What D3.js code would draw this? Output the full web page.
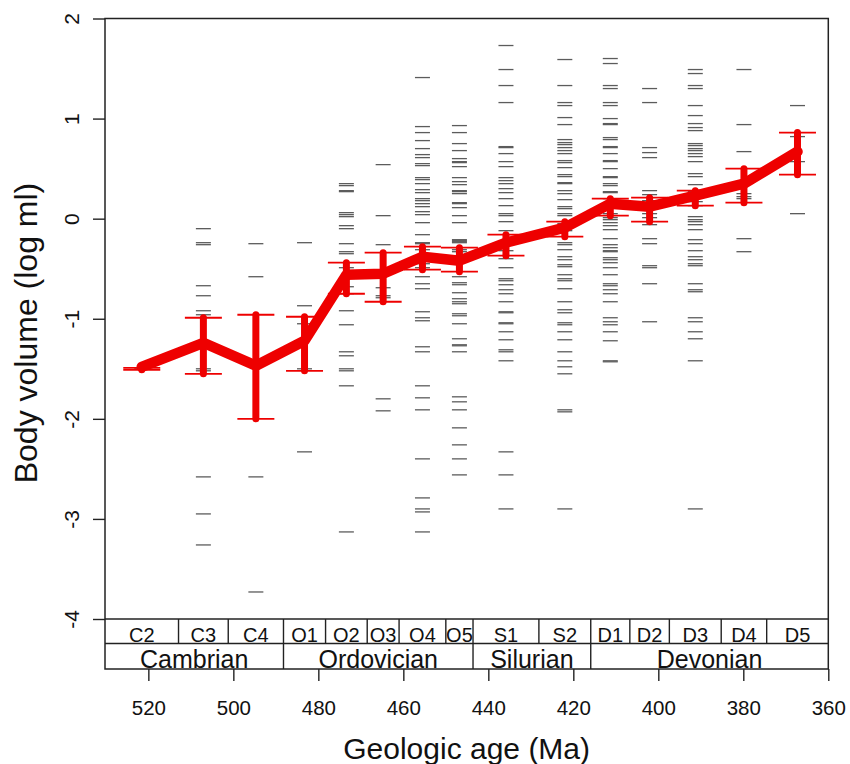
<!DOCTYPE html>
<html>
<head>
<meta charset="utf-8">
<script src="https://cdn.jsdelivr.net/npm/d3@7"></script>
<style>
  html, body { margin: 0; padding: 0; background: #fff; }
  svg { display: block; font-family: "Liberation Sans", Arial, Helvetica, sans-serif; }
</style>
</head>
<body>
<svg id="chart" width="850" height="764"></svg>
<script>
// ---------- data ----------
const stages = ["C2","C3","C4","O1","O2","O3","O4","O5","S1","S2","D1","D2","D3","D4","D5"];
const stageBounds = [530.2, 512.9, 501.2, 488.2, 478.3, 468.5, 461.0, 450.0, 443.6, 428.1, 415.9, 406.7, 397.4, 385.2, 374.5, 360.0];
const periods = ["Cambrian","Ordovician","Silurian","Devonian"];
const periodBounds = [530.2, 488.2, 443.6, 415.9, 360.0];

const meanVolume = [-1.48, -1.24, -1.47, -1.22, -0.56, -0.55, -0.38, -0.42, -0.24, -0.09, 0.15, 0.12, 0.23, 0.35, 0.67];
const ciUpper    = [-1.49, -0.99, -0.96, -0.98, -0.44, -0.34, -0.28, -0.29, -0.16, -0.03, 0.20, 0.21, 0.28, 0.50, 0.86];
const ciLower    = [-1.51, -1.55, -2.00, -1.52, -0.75, -0.83, -0.51, -0.53, -0.37, -0.18, 0.03, -0.03, 0.13, 0.16, 0.44];

const occC2 = [-1.50];
const occC3 = [-0.10, -0.24, -0.26, -0.67, -0.77, -0.92, -0.96, -1.24, -1.50, -1.52, -2.58, -2.95, -3.26];
const occC4 = [-0.25, -0.58, -2.58, -3.73];
const occO1 = [-0.24, -0.87, -1.05, -1.50, -2.33];
const occO2 = [0.35, 0.33, 0.28, 0.27, 0.06, 0.04, 0.02, -0.07, -0.10, -0.25, -0.33, -0.35, -0.49, -0.68, -0.75, -0.92, -1.06, -1.33, -1.37, -1.50, -1.52, -1.67, -3.13];
const occO3 = [0.54, 0.03, -0.26, -0.69, -0.77, -0.79, -1.80, -1.92];
const occO4 = [1.41, 0.92, 0.86, 0.78, 0.70, 0.64, 0.61, 0.55, 0.53, 0.41, 0.39, 0.35, 0.29, 0.26, 0.20, 0.18, 0.15, 0.12, 0.07, 0.04, -0.04, -0.16, -0.24, -0.25, -0.31, -0.45, -0.49, -0.58, -0.65, -0.70, -0.93, -0.99, -1.02, -1.28, -1.33, -1.67, -1.79, -1.91, -2.40, -2.79, -2.90, -2.93, -3.13];
const occO5 = [0.93, 0.86, 0.75, 0.68, 0.60, 0.57, 0.56, 0.52, 0.41, 0.37, 0.34, 0.28, 0.27, 0.25, 0.16, 0.15, 0.11, 0.03, -0.04, -0.21, -0.22, -0.23, -0.24, -0.31, -0.33, -0.58, -0.64, -0.66, -0.74, -0.80, -0.83, -0.85, -0.95, -0.97, -1.05, -1.20, -1.26, -1.27, -1.33, -1.78, -1.83, -1.91, -2.09, -2.26, -2.40, -2.56];
const occS1 = [1.73, 1.49, 1.33, 1.16, 0.72, 0.71, 0.65, 0.57, 0.52, 0.41, 0.38, 0.35, 0.30, 0.26, 0.20, 0.13, 0.05, 0.03, -0.03, -0.12, -0.32, -0.40, -0.49, -0.60, -0.62, -0.66, -0.71, -0.75, -0.83, -0.93, -0.94, -1.04, -1.05, -1.13, -1.21, -1.31, -1.33, -1.42, -2.33, -2.56, -2.90];
const occS2 = [1.59, 1.33, 1.16, 1.13, 1.01, 0.94, 0.79, 0.76, 0.74, 0.71, 0.68, 0.65, 0.58, 0.56, 0.51, 0.44, 0.42, 0.36, 0.35, 0.28, 0.25, 0.19, 0.12, 0.10, 0.05, 0.03, -0.05, -0.12, -0.24, -0.26, -0.31, -0.38, -0.41, -0.46, -0.48, -0.56, -0.60, -0.62, -0.70, -0.83, -0.91, -0.94, -1.04, -1.06, -1.13, -1.21, -1.33, -1.42, -1.48, -1.55, -1.91, -1.93, -2.90];
const occD1 = [1.60, 1.55, 1.33, 1.30, 1.16, 1.13, 1.00, 0.95, 0.94, 0.81, 0.79, 0.72, 0.71, 0.65, 0.58, 0.57, 0.50, 0.42, 0.41, 0.35, 0.33, 0.27, 0.26, 0.20, 0.12, 0.05, 0.01, -0.01, -0.04, -0.07, -0.11, -0.20, -0.26, -0.29, -0.32, -0.33, -0.39, -0.41, -0.44, -0.49, -0.56, -0.65, -0.67, -0.71, -0.75, -0.83, -0.99, -1.03, -1.06, -1.13, -1.22, -1.42, -1.43];
const occD2 = [1.30, 1.16, 0.71, 0.66, 0.61, 0.28, 0.24, 0.18, 0.05, 0.01, -0.06, -0.20, -0.25, -0.47, -0.49, -0.65, -1.03];
const occD3 = [1.49, 1.45, 1.33, 1.30, 1.13, 1.03, 0.95, 0.91, 0.88, 0.75, 0.73, 0.70, 0.68, 0.65, 0.62, 0.57, 0.45, 0.42, 0.34, 0.27, 0.17, 0.13, 0.02, -0.01, -0.03, -0.06, -0.11, -0.21, -0.25, -0.32, -0.38, -0.41, -0.45, -0.47, -0.65, -0.71, -0.73, -0.99, -1.03, -1.13, -1.20, -1.42, -2.90];
const occD4 = [1.49, 0.94, 0.67, 0.25, 0.22, 0.20, -0.20, -0.33];
const occD5 = [1.13, 0.82, 0.57, 0.05];
const occurrences = [occC2, occC3, occC4, occO1, occO2, occO3, occO4, occO5, occS1, occS2, occD1, occD2, occD3, occD4, occD5];

const yTicks = [2, 1, 0, -1, -2, -3, -4];
const xTicks = [520, 500, 480, 460, 440, 420, 400, 380, 360];

// ---------- layout ----------
const L = 105, R = 828.3, T = 18.5, B = 669;
const strip1 = 619, strip2 = 643.5;
const svg = d3.select("#chart");
const x = d3.scaleLinear().domain([530.2, 360]).range([L, R]);
const y = d3.scaleLinear().domain([-4, 2]).range([strip1, T]);
const ink = "#222";
const red = "#ee0000";
const fmt = d => String(d);

const mid = stages.map((s, i) => (stageBounds[i] + stageBounds[i + 1]) / 2);

// occurrence dashes
const dashG = svg.append("g");
occurrences.forEach((arr, i) => {
  dashG.selectAll(null).data(arr).enter().append("line")
    .attr("x1", x(mid[i]) - 7.5).attr("x2", x(mid[i]) + 7.5)
    .attr("y1", d => y(d)).attr("y2", d => y(d))
    .attr("stroke", "#5c5c5c").attr("stroke-width", 1.3);
});

// error bars
const eb = svg.append("g");
eb.selectAll(null).data(stages).enter().append("line")
  .attr("x1", (d, i) => x(mid[i])).attr("x2", (d, i) => x(mid[i]))
  .attr("y1", (d, i) => y(ciUpper[i])).attr("y2", (d, i) => y(ciLower[i]))
  .attr("stroke", red).attr("stroke-width", 7).attr("stroke-linecap", "round");
[ciUpper, ciLower].forEach(arr => {
  eb.selectAll(null).data(stages).enter().append("line")
    .attr("x1", (d, i) => x(mid[i]) - 18.5).attr("x2", (d, i) => x(mid[i]) + 18.5)
    .attr("y1", (d, i) => y(arr[i])).attr("y2", (d, i) => y(arr[i]))
    .attr("stroke", red).attr("stroke-width", 1.8);
});

// mean line
const line = d3.line().x((d, i) => x(mid[i])).y(d => y(d));
svg.append("path").datum(meanVolume).attr("d", line)
  .attr("fill", "none").attr("stroke", red).attr("stroke-width", 10.5)
  .attr("stroke-linejoin", "round").attr("stroke-linecap", "round");

// stage strip
const strip = svg.append("g").attr("stroke", ink).attr("stroke-width", 1.4);
strip.append("line").attr("x1", L).attr("x2", R).attr("y1", strip1).attr("y2", strip1);
strip.append("line").attr("x1", L).attr("x2", R).attr("y1", strip2).attr("y2", strip2);
strip.selectAll(null).data(stageBounds.slice(1, -1)).enter().append("line")
  .attr("x1", d => x(d)).attr("x2", d => x(d)).attr("y1", strip1).attr("y2", strip2);
strip.selectAll(null).data(periodBounds.slice(1, -1)).enter().append("line")
  .attr("x1", d => x(d)).attr("x2", d => x(d)).attr("y1", strip2).attr("y2", B);

svg.append("g").selectAll(null).data(stages).enter().append("text")
  .attr("x", (d, i) => x(mid[i])).attr("y", 641.5)
  .attr("text-anchor", "middle").attr("font-size", 20).attr("fill", "#111")
  .text(d => d);
svg.append("g").selectAll(null).data(periods).enter().append("text")
  .attr("x", (d, i) => x((periodBounds[i] + periodBounds[i + 1]) / 2)).attr("y", 668)
  .attr("text-anchor", "middle").attr("font-size", 25).attr("fill", "#111")
  .text(d => d);

// box
svg.append("rect").attr("x", L).attr("y", T).attr("width", R - L).attr("height", B - T)
  .attr("fill", "none").attr("stroke", ink).attr("stroke-width", 1.5);

// y axis
const yAxis = svg.append("g").attr("transform", `translate(${L},0)`)
  .call(d3.axisLeft(y).tickValues(yTicks).tickSize(12).tickFormat(fmt));
yAxis.select(".domain").remove();
yAxis.selectAll(".tick line").attr("stroke", ink).attr("stroke-width", 1.4);
yAxis.selectAll(".tick text")
  .attr("transform", "rotate(-90)").attr("x", 0).attr("y", -26).attr("dy", 0)
  .attr("text-anchor", "middle").attr("font-size", 21).attr("fill", "#111")
  .attr("font-family", "Liberation Sans, Arial, sans-serif");

// x axis
const xAxis = svg.append("g").attr("transform", `translate(0,${B})`)
  .call(d3.axisBottom(x).tickValues(xTicks).tickSize(12).tickFormat(fmt));
xAxis.select(".domain").remove();
xAxis.selectAll(".tick line").attr("stroke", ink).attr("stroke-width", 1.4);
xAxis.selectAll(".tick text")
  .attr("y", 46).attr("dy", 0).attr("font-size", 20.5).attr("fill", "#111")
  .attr("font-family", "Liberation Sans, Arial, sans-serif");

// axis titles
svg.append("text").attr("transform", `translate(37,333) rotate(-90)`)
  .attr("text-anchor", "middle").attr("font-size", 32).attr("fill", "#111")
  .text("Body volume (log ml)");
svg.append("text").attr("x", (L + R) / 2).attr("y", 759)
  .attr("text-anchor", "middle").attr("font-size", 30).attr("fill", "#111")
  .text("Geologic age (Ma)");
</script>
</body>
</html>
